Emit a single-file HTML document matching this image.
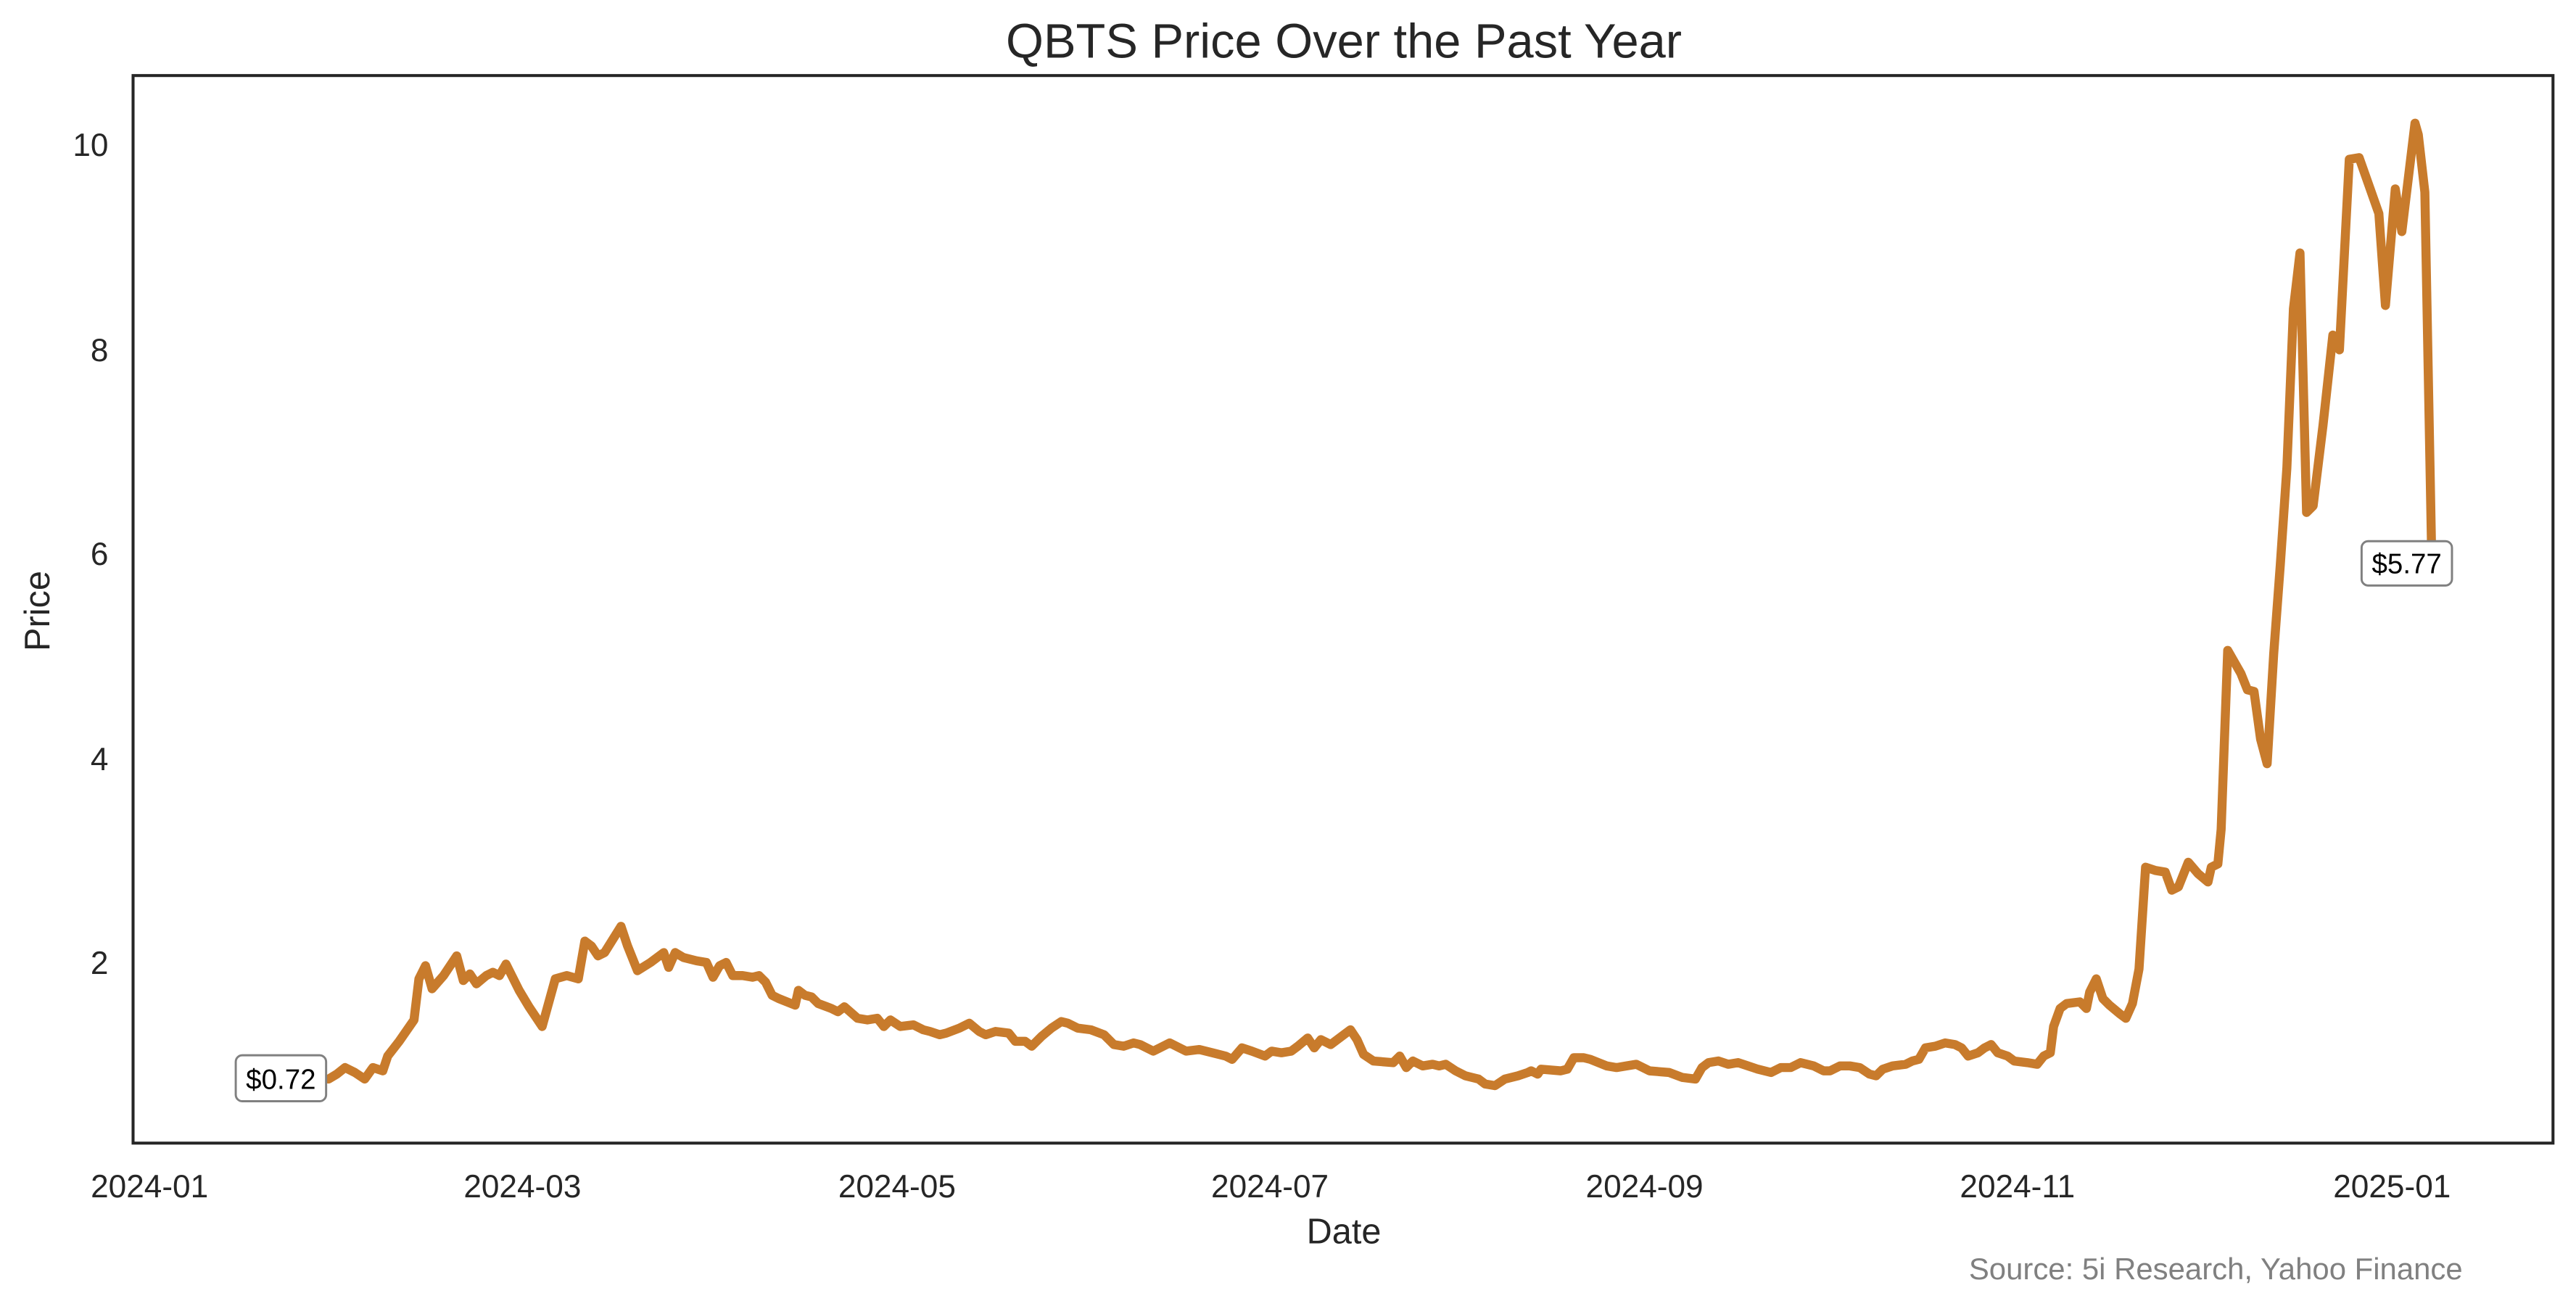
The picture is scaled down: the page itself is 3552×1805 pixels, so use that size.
<!DOCTYPE html>
<html><head><meta charset="utf-8"><style>html,body{margin:0;padding:0;background:#fff}svg{display:block}</style></head>
<body>
<svg width="3552" height="1805" viewBox="0 0 1568 797" preserveAspectRatio="none" xmlns="http://www.w3.org/2000/svg" font-family="Liberation Sans, Arial, sans-serif">
<rect width="1568" height="797" fill="#fff"/>
<text x="818" y="35" font-size="29.5" text-anchor="middle" fill="#262626">QBTS Price Over the Past Year</text>
<g font-size="19.5" fill="#262626" text-anchor="end">
<text x="66" y="95">10</text><text x="66" y="220">8</text><text x="66" y="344">6</text><text x="66" y="469">4</text><text x="66" y="593">2</text>
</g>
<g font-size="19.5" fill="#262626" text-anchor="middle">
<text x="91" y="729">2024-01</text><text x="318" y="729">2024-03</text><text x="546" y="729">2024-05</text><text x="773" y="729">2024-07</text><text x="1001" y="729">2024-09</text><text x="1228" y="729">2024-11</text><text x="1456" y="729">2025-01</text>
</g>
<text x="818" y="757" font-size="21.5" text-anchor="middle" fill="#262626">Date</text>
<text transform="translate(30,372) rotate(-90)" font-size="21.5" text-anchor="middle" fill="#262626">Price</text>
<text x="1499" y="779" font-size="18.5" text-anchor="end" fill="#808080">Source: 5i Research, Yahoo Finance</text>
<polyline fill="none" stroke="#c87b2c" stroke-width="5.5" stroke-linejoin="round" stroke-linecap="round" points="200,657 205,654 210,650 216,653 222,657 227,650 233,652 236,643 243,634 252,621 255,596 259,588 263,602 270,594 278,582 282,597 286,593 290,599 296,594 300,592 304,594 308,587 312,595 316,603 322,613 330,625 338,596 345,594 352,596 356,573 360,576 364,582 368,580 378,564 382,576 388,591 396,586 404,580 407,589 411,580 416,583 424,585 430,586 434,595 438,588 442,586 446,594 452,594 458,595 462,594 466,598 470,606 474,608 484,612 486,603 490,606 494,607 498,611 506,614 510,616 514,613 522,620 528,621 534,620 538,625 542,621 548,625 556,624 562,627 566,628 572,630 576,629 584,626 590,623 596,628 600,630 606,628 614,629 618,634 624,634 628,637 634,631 640,626 646,622 650,623 656,626 664,627 672,630 678,636 684,637 690,635 694,636 698,638 702,640 706,638 712,635 718,638 722,640 730,639 738,641 746,643 750,645 756,638 762,640 770,643 774,640 780,641 786,640 790,637 796,632 800,638 804,633 810,636 818,630 822,627 826,633 830,642 836,646 848,647 852,643 856,650 860,646 866,649 872,648 876,649 880,648 886,652 892,655 900,657 904,660 910,661 916,657 924,655 930,653 932,652 936,654 938,651 950,652 954,651 958,644 964,644 968,645 978,649 984,650 990,649 996,648 1004,652 1016,653 1024,656 1032,657 1036,650 1040,647 1046,646 1052,648 1058,647 1064,649 1070,651 1078,653 1084,650 1090,650 1096,647 1104,649 1110,652 1114,652 1120,649 1126,649 1132,650 1138,654 1142,655 1146,651 1152,649 1160,648 1164,646 1168,645 1172,638 1178,637 1184,635 1190,636 1194,638 1198,643 1204,641 1208,638 1212,636 1216,641 1222,643 1226,646 1234,647 1240,648 1244,643 1248,641 1250,625 1254,614 1258,611 1266,610 1270,614 1272,604 1276,596 1280,608 1284,612 1290,617 1294,620 1298,611 1302,590 1306,528 1312,530 1318,531 1322,542 1326,540 1332,525 1338,532 1344,537 1346,528 1350,526 1352,505 1356,396 1364,410 1368,420 1372,421 1376,450 1380,465 1384,398 1388,344 1392,285 1396,188 1400,154 1404,312 1408,308 1414,259 1420,204 1424,213 1430,97 1436,96 1448,130 1452,186 1458,115 1462,141 1470,75 1472,82 1476,117 1480,330"/>
<rect x="81" y="46" width="1473" height="650" fill="none" stroke="#262626" stroke-width="1.8"/>
<rect x="143.5" y="642.5" width="55" height="28" rx="4" fill="#fff" stroke="#808080" stroke-width="1.3"/>
<text x="171" y="663" font-size="17" text-anchor="middle" fill="#000">$0.72</text>
<rect x="1437.5" y="329.5" width="55" height="27" rx="4" fill="#fff" stroke="#808080" stroke-width="1.3"/>
<text x="1465" y="349" font-size="17" text-anchor="middle" fill="#000">$5.77</text>
</svg>
</body></html>
